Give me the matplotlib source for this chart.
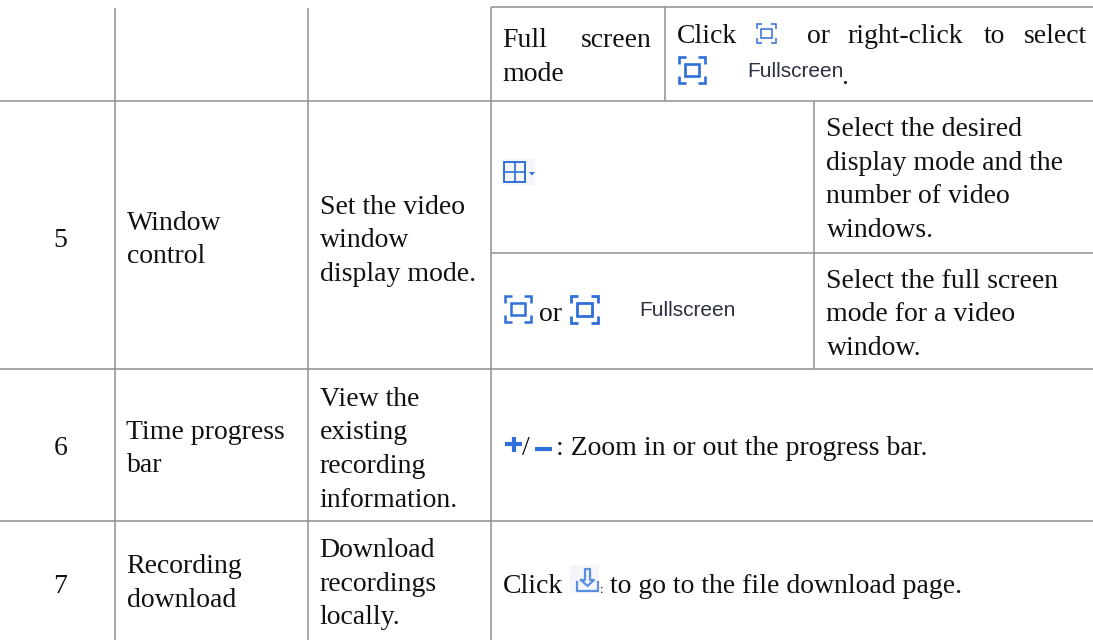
import matplotlib
matplotlib.use("Agg")
import matplotlib.pyplot as plt
from matplotlib.patches import Rectangle

W, H = 1093, 640
BLUE = "#2f6fd8"
LINE = "#8f8f8f"
ICON_BG = "#f4f6fa"

# x, y0, y1
v_lines = [(115, 8, 640), (308, 8, 640), (491, 7, 640), (665, 7, 101), (814, 101, 369)]
# y, x0, x1
h_lines = [(7, 491, 1093), (101, 0, 1093), (253, 491, 1093), (369, 0, 1093), (521, 0, 1093)]

# x, baseline y, text
body_text = [
    (503, 47, "Full"), (581, 47, "screen"), (503, 81, "mode"),
    (677, 43, "Click"), (807, 43, "or"), (848, 43, "right-click"),
    (984, 43, "to"), (1024, 43, "select"),
    (54, 247, "5"), (127, 230, "Window"), (127, 263, "control"),
    (320, 214, "Set the video"), (320, 247, "window"), (320, 281, "display mode."),
    (827, 136, "Select the desired"), (827, 170, "display mode and the"),
    (827, 203, "number of video"), (827, 237, "windows."),
    (827, 288, "Select the full screen"), (827, 321, "mode for a video"),
    (827, 355, "window."), (539, 321, "or"),
    (54, 455, "6"), (127, 439, "Time progress"), (127, 472, "bar"),
    (320, 406, "View the"), (320, 439, "existing"), (320, 473, "recording"),
    (320, 507, "information."),
    (557, 455, ": Zoom in or out the progress bar."), (523, 455, "/"),
    (54, 593, "7"), (127, 573, "Recording"), (127, 607, "download"),
    (320, 557, "Download"), (320, 591, "recordings"), (320, 624, "locally."),
    (503, 593, "Click"), (610, 593, "to go to the file download page."),
    (842, 84, "."),
]
# x, baseline y, text
ui_labels = [(747, 77, "Fullscreen"), (639, 316, "Fullscreen")]
# x, y, size of the fullscreen icons, line width
full_icons = [(757, 24, 19, 1.1), (679, 57, 26, 1.9), (505, 296, 26, 1.8), (571, 296, 27, 2.0)]


def full_icon(ax, x, y, s, lw):
    c = s * 0.26
    for cx, sx in ((x, 1), (x + s, -1)):
        for cy, sy in ((y, 1), (y + s, -1)):
            ax.plot([cx + sx * c, cx, cx], [cy, cy, cy + sy * c], color=BLUE, lw=lw,
                    solid_capstyle="butt", solid_joinstyle="miter")
    m = s * 0.23
    ax.add_patch(Rectangle((x + m, y + m * 1.1), s - 2 * m, s - 2.2 * m, fill=False, ec=BLUE, lw=lw))


def main():
    fig = plt.figure(figsize=(W / 100, H / 100), dpi=100)
    ax = fig.add_axes([0, 0, 1, 1])
    ax.set_xlim(0, W)
    ax.set_ylim(H, 0)
    ax.axis("off")

    for x, y0, y1 in v_lines:
        ax.plot([x, x], [y0, y1], color=LINE, lw=1.1, solid_capstyle="butt")
    for y, x0, x1 in h_lines:
        ax.plot([x0, x1], [y, y], color=LINE, lw=1.1, solid_capstyle="butt")

    for x, y, s in body_text:
        ax.text(x - 0.5, y, s, family="Liberation Serif", fontsize=20, color="#111111",
                va="baseline", ha="left")
    for x, y, s in ui_labels:
        ax.text(x, y, s, family="Liberation Sans", fontsize=15, color="#2a3040",
                va="baseline", ha="left")

    for x, y, s, lw in full_icons:
        full_icon(ax, x, y, s, lw)

    # layout icon
    ax.add_patch(Rectangle((503, 159), 32, 26, fc=ICON_BG, ec="none"))
    ax.add_patch(Rectangle((504, 162), 21, 20, fill=False, ec=BLUE, lw=1.4))
    ax.plot([514.5, 514.5], [162, 182], color=BLUE, lw=1.2)
    ax.plot([504, 525], [172, 172], color=BLUE, lw=1.2)
    ax.fill([529, 535, 532], [172, 172, 175.5], color=BLUE, lw=0)

    # plus and minus
    ax.plot([505, 522], [444, 444], color=BLUE, lw=3.0, solid_capstyle="butt")
    ax.plot([513.5, 513.5], [437, 452], color=BLUE, lw=3.0, solid_capstyle="butt")
    ax.plot([535, 552], [448.5, 448.5], color=BLUE, lw=3.0, solid_capstyle="butt")

    # download icon
    ax.add_patch(Rectangle((570, 565), 29, 28, fc=ICON_BG, ec="none"))
    ax.plot([577, 577, 598, 598], [582, 591, 591, 582], color="#5b8fe0", lw=1.6)
    ax.plot([581, 587.5, 594, 590, 590, 585, 585, 581],
            [580, 586, 580, 580, 569, 569, 580, 580], color="#5b8fe0", lw=1.6)
    ax.text(600, 593, ":", family="Liberation Serif", fontsize=9, color="#111111",
            va="baseline", ha="left")

    fig.savefig("out.png", dpi=100)


if __name__ == "__main__":
    main()
